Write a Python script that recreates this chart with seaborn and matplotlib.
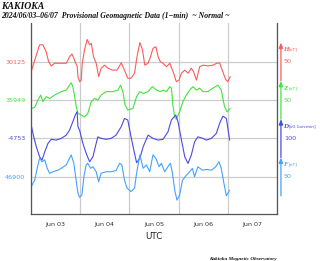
import numpy as np
import pandas as pd
import matplotlib
matplotlib.use("Agg")
import matplotlib.pyplot as plt
import matplotlib.dates as mdates
import matplotlib.ticker as mticker
import matplotlib.transforms as mtransforms
import seaborn as sns

# ---------------- data (hours from 2024-06-03 00:00, values) ----------------
h_hours = [0.1, 1.8, 4.2, 5.8, 7.4, 8.6, 9.9, 11.5, 13.1, 15.6, 17.2, 18.8, 20.0, 20.9, 21.8, 22.5,
           22.9, 23.7, 24.5, 25.0, 26.1, 27.4, 28.6, 29.4, 30.5, 31.8, 33.0, 34.2, 35.9, 37.5, 39.9,
           42.0, 44.0, 45.6, 47.2, 48.8, 50.5, 51.7, 53.1, 54.4, 55.5, 57.1, 58.3, 59.5, 60.9, 62.0,
           63.1, 64.4, 66.1, 67.7, 69.3, 70.9, 72.2, 73.4, 75.0, 76.6, 78.2, 79.3, 80.7, 82.3, 83.9,
           86.3, 88.7, 90.7, 92.0, 93.3, 94.9, 96.0, 97.2]
h_vals = [30099, 30129, 30169, 30169, 30151, 30125, 30114, 30121, 30121, 30121, 30121, 30138, 30145,
          30134, 30121, 30114, 30086, 30073, 30077, 30121, 30156, 30183, 30169, 30173, 30138, 30121,
          30086, 30108, 30116, 30108, 30103, 30103, 30122, 30103, 30082, 30082, 30095, 30138, 30175,
          30156, 30116, 30121, 30138, 30160, 30164, 30138, 30125, 30121, 30112, 30121, 30099, 30073,
          30077, 30095, 30103, 30095, 30108, 30099, 30077, 30112, 30116, 30114, 30116, 30121, 30122,
          30103, 30079, 30073, 30086]

z_hours = [0.1, 1.8, 3.4, 4.7, 5.8, 7.4, 9.1, 11.5, 14.8, 17.2, 18.8, 19.6, 20.4, 21.3, 22.1, 22.9,
           24.5, 26.1, 27.7, 29.4, 31.0, 32.6, 34.2, 36.7, 39.9, 42.4, 43.7, 44.8, 45.9, 47.2, 49.7,
           51.5, 53.1, 54.7, 57.1, 59.2, 61.2, 63.1, 64.4, 66.1, 67.7, 68.5, 69.3, 70.1, 70.9, 72.5,
           74.1, 75.8, 77.4, 79.0, 80.7, 82.3, 83.9, 86.3, 88.7, 91.2, 92.8, 94.4, 95.6, 97.2]
z_vals = [35927, 35930, 35949, 35962, 35945, 35958, 35953, 35962, 35971, 35975, 35988, 35994, 35984,
          35958, 35932, 35914, 35910, 35905, 35914, 35945, 35953, 35949, 35962, 35971, 35971, 35975,
          35988, 35971, 35936, 35923, 35927, 35958, 35971, 35966, 35971, 35984, 35975, 35971, 35975,
          35971, 35984, 35980, 35932, 35905, 35899, 35918, 35945, 35962, 35975, 35984, 35975, 35980,
          35971, 35971, 35980, 35988, 35975, 35932, 35918, 35927]

d_hours = [0.1, 1.5, 2.6, 4.2, 5.4, 6.7, 8.3, 9.9, 12.3, 14.8, 17.2, 18.8, 20.4, 21.6, 22.5, 22.9,
           23.7, 25.3, 26.9, 28.6, 30.2, 31.8, 32.6, 34.2, 36.7, 39.1, 41.5, 44.0, 45.6, 47.2, 48.8,
           50.5, 51.5, 53.1, 54.7, 57.1, 59.5, 62.0, 64.4, 66.8, 68.5, 70.6, 71.7, 73.4, 75.0, 76.6,
           78.2, 79.8, 81.4, 83.9, 85.5, 88.0, 90.4, 92.0, 93.6, 95.3, 96.9]
d_vals = [-4684, -4753, -4797, -4849, -4866, -4823, -4779, -4758, -4762, -4753, -4736, -4710, -4666,
          -4631, -4614, -4692, -4710, -4779, -4831, -4875, -4849, -4779, -4745, -4753, -4758, -4753,
          -4736, -4692, -4649, -4657, -4745, -4831, -4880, -4857, -4797, -4736, -4753, -4762, -4758,
          -4719, -4657, -4631, -4666, -4762, -4849, -4884, -4840, -4771, -4745, -4753, -4762, -4753,
          -4727, -4675, -4637, -4649, -4762]

f_hours = [0.1, 1.8, 3.4, 4.2, 5.4, 6.7, 7.9, 9.1, 10.7, 13.1, 14.8, 17.2, 18.8, 19.6, 20.9, 22.1,
           22.9, 23.7, 24.8, 25.8, 26.9, 27.7, 29.1, 30.2, 31.8, 33.0, 34.2, 36.7, 39.1, 41.5, 43.2,
           44.3, 45.6, 46.9, 48.8, 50.5, 51.5, 53.1, 54.7, 56.3, 57.9, 59.5, 60.9, 62.5, 63.6, 65.2,
           66.8, 68.0, 69.0, 70.1, 71.2, 72.5, 73.9, 75.8, 77.4, 78.7, 79.8, 81.4, 83.6, 85.5, 88.0,
           90.1, 91.7, 92.8, 94.1, 95.3, 96.9]
f_vals = [46874, 46891, 46931, 46948, 46939, 46944, 46922, 46909, 46913, 46917, 46922, 46931, 46948,
          46957, 46935, 46887, 46857, 46846, 46852, 46900, 46931, 46935, 46922, 46926, 46913, 46887,
          46909, 46913, 46913, 46916, 46935, 46931, 46891, 46870, 46861, 46870, 46909, 46957, 46922,
          46931, 46913, 46957, 46948, 46926, 46935, 46913, 46926, 46935, 46909, 46865, 46839, 46852,
          46891, 46904, 46913, 46922, 46900, 46926, 46917, 46919, 46917, 46926, 46939, 46922, 46883,
          46850, 46865]

components = ["H", "Z", "D", "F"]
base_labels = ["30125", "35949", "-4753", "46900"]
bases = [30125, 35949, -4753, 46900]
scale_per_grid = [100, 100, 200, 100]
scale_labels = ["50", "50", "100", "50"]
units = ["[nT]", "[nT]", "[x0.1arcmin]", "[nT]"]
colors = ["#ff5a5a", "#3ee63e", "#4a4ae8", "#45a2ff"]
levels = [3, 2, 1, 0]

start = pd.Timestamp("2024-06-03 00:00")
x_end = pd.Timestamp("2024-06-08 00:00")
series_hours = [h_hours, z_hours, d_hours, f_hours]
series_vals = [h_vals, z_vals, d_vals, f_vals]

frames = []
for comp, hrs, vals, base, sc, lev in zip(components, series_hours, series_vals, bases,
                                           scale_per_grid, levels):
    t = start + pd.to_timedelta(np.array(hrs), unit="h")
    y = lev + (np.array(vals, dtype=float) - base) / sc
    frames.append(pd.DataFrame({"time": t, "level": y, "comp": comp}))
df = pd.concat(frames, ignore_index=True)

# ---------------- figure ----------------
sns.set_style("white")
plt.rcParams["font.family"] = ["DejaVu Sans"]
fig = plt.figure(figsize=(3.2, 2.61), dpi=100)
ax = fig.add_axes([31 / 320, 47 / 261, 246 / 320, 191 / 261])

sns.lineplot(data=df, x="time", y="level", hue="comp", palette=dict(zip(components, colors)),
             hue_order=components, legend=False, linewidth=0.8, ax=ax, estimator=None, sort=False)

ax.set_xlim(start, x_end)
ax.set_ylim(-0.973, 4.01)

# day boundaries: ticks + grid; day labels centred at noon
ax.xaxis.set_major_locator(mdates.DayLocator())
ax.xaxis.set_major_formatter(mticker.NullFormatter())
ax.xaxis.set_minor_locator(mdates.HourLocator(byhour=[12]))
ax.xaxis.set_minor_formatter(mdates.DateFormatter("%b %d"))
ax.set_yticks(levels)
ax.set_yticklabels(base_labels)
for lbl, c in zip(ax.get_yticklabels(), colors):
    lbl.set_color(c)

ax.grid(True, which="major", color="#cccccc", linewidth=0.9)
ax.tick_params(axis="x", which="major", length=3, width=0.8, color="#555555")
ax.tick_params(axis="x", which="minor", length=2, width=0.6, color="#555555",
               labelsize=4.6, labelcolor="#333333", pad=3.5)
ax.tick_params(axis="y", which="major", length=0, labelsize=4.6, pad=4)

for side in ["left", "bottom", "right"]:
    ax.spines[side].set_color("#555555")
    ax.spines[side].set_linewidth(0.9)
ax.spines["top"].set_visible(False)

ax.set_xlabel("UTC", fontsize=6.3, color="#222222", labelpad=4)
ax.set_ylabel("")

# scale bars on the right
trans = mtransforms.blended_transform_factory(ax.transAxes, ax.transData)
for lev, c, comp, unit, slab in zip(levels, colors, components, units, scale_labels):
    ax.annotate("", xy=(1.016, lev + 0.5), xytext=(1.016, lev - 0.5), xycoords=trans,
                textcoords=trans, annotation_clip=False,
                arrowprops=dict(arrowstyle="-|>,head_length=0.3,head_width=0.12", color=c,
                                lw=0.9, shrinkA=0, shrinkB=0))
    ax.text(1.026, lev + 0.31, comp, transform=trans, color=c, fontsize=5,
            fontweight="bold", fontstyle="italic", family="Liberation Serif",
            va="center", ha="left", clip_on=False)
    ax.text(1.046, lev + 0.31, unit, transform=trans,
            color=c, fontsize=3.2, va="center", ha="left", clip_on=False)
    ax.text(1.028, lev, slab, transform=trans, color=c, fontsize=4.6,
            va="center", ha="left", clip_on=False)

# titles
fig.text(0.003, 1 - 6.5 / 261, "KAKIOKA", fontsize=7, fontweight="bold", fontstyle="italic",
         family="Liberation Serif", va="center", ha="left", color="#111111")
fig.text(0.003, 1 - 15.5 / 261,
         "2024/06/03\u201306/07  Provisional Geomagnetic Data (1\u2212min)  ~ Normal ~",
         fontsize=5.6, fontweight="bold", fontstyle="italic", family="Liberation Serif",
         va="center", ha="left", color="#111111")
fig.text(277 / 320, 1 - 259 / 261, "Kakioka Magnetic Observatory", fontsize=3.8,
         fontweight="bold", fontstyle="italic", family="Liberation Serif",
         va="center", ha="right", color="#111111")

fig.savefig("out.png", dpi=100)
